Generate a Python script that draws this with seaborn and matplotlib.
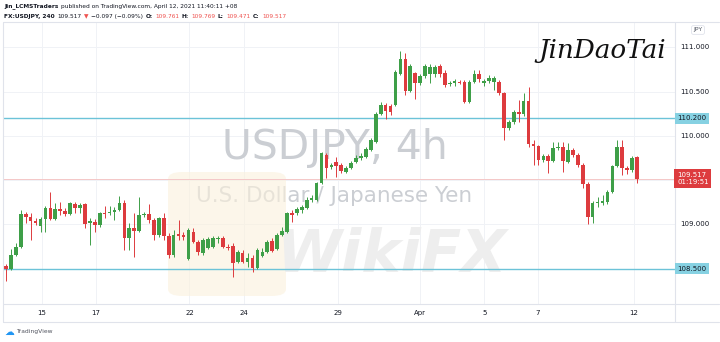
import matplotlib
matplotlib.use("Agg")
import matplotlib.pyplot as plt
from matplotlib.lines import Line2D
from matplotlib.patches import FancyBboxPatch
import matplotlib.transforms as mtrans
import numpy as np
import pandas as pd
import seaborn as sns

# ---------------- data (USDJPY, 4h candles) ----------------
opens = [108.529, 108.495, 108.653, 108.743, 109.116, 109.082, 109.037, 108.981, 109.060, 109.184,
         109.060, 109.173, 109.150, 109.116, 109.229, 109.184, 109.229, 109.015, 109.026, 108.992,
         109.128, 109.128, 109.139, 109.162, 109.241, 108.845, 108.958, 108.924, 109.105, 109.116,
         109.049, 108.879, 109.071, 108.868, 108.653, 108.890, 108.879, 108.608, 108.913, 108.800,
         108.676, 108.732, 108.743, 108.834, 108.845, 108.743, 108.755, 108.574, 108.676, 108.574,
         108.619, 108.506, 108.642, 108.687, 108.811, 108.721, 108.879, 108.913, 109.128, 109.128,
         109.162, 109.184, 109.275, 109.275, 109.467, 109.783, 109.647, 109.704, 109.670, 109.591,
         109.636, 109.704, 109.749, 109.760, 109.840, 109.930, 110.246, 110.348, 110.337, 110.348,
         110.698, 110.868, 110.506, 110.710, 110.597, 110.676, 110.698, 110.698, 110.789, 110.710,
         110.586, 110.597, 110.608, 110.608, 110.382, 110.608, 110.698, 110.597, 110.619, 110.608,
         110.608, 110.484, 110.088, 110.156, 110.269, 110.246, 110.393, 109.907, 109.885, 109.727,
         109.772, 109.715, 109.862, 109.874, 109.704, 109.840, 109.783, 109.670, 109.455, 109.082,
         109.241, 109.241, 109.252, 109.365, 109.659, 109.874, 109.636, 109.614, 109.761]
highs = [108.551, 108.721, 108.789, 109.162, 109.139, 109.128, 109.071, 109.082, 109.207, 109.365,
         109.240, 109.252, 109.184, 109.252, 109.252, 109.241, 109.241, 109.071, 109.060, 109.139,
         109.207, 109.207, 109.196, 109.320, 109.275, 109.015, 109.128, 109.308, 109.139, 109.229,
         109.071, 109.082, 109.128, 108.902, 108.936, 109.049, 108.913, 108.958, 108.958, 108.823,
         108.845, 108.856, 108.868, 108.868, 108.868, 108.777, 108.789, 108.710, 108.710, 108.676,
         108.653, 108.732, 108.732, 108.823, 108.845, 108.902, 108.969, 109.139, 109.162, 109.196,
         109.218, 109.308, 109.331, 109.478, 109.817, 109.806, 109.693, 109.760, 109.693, 109.659,
         109.715, 109.783, 109.806, 109.874, 109.975, 110.269, 110.382, 110.371, 110.360, 110.743,
         110.958, 110.936, 110.811, 110.721, 110.698, 110.811, 110.811, 110.800, 110.811, 110.743,
         110.619, 110.642, 110.631, 110.631, 110.631, 110.743, 110.743, 110.642, 110.687, 110.676,
         110.631, 110.495, 110.180, 110.292, 110.405, 110.484, 110.551, 109.953, 109.896, 109.794,
         109.794, 109.930, 109.930, 109.930, 109.919, 109.862, 109.806, 109.693, 109.478, 109.263,
         109.308, 109.331, 109.388, 109.670, 109.953, 109.953, 109.659, 109.772, 109.769]
lows = [108.359, 108.484, 108.642, 108.732, 109.015, 108.823, 108.992, 108.913, 108.913, 109.049,
        109.049, 109.105, 109.094, 109.105, 109.128, 109.128, 108.958, 108.766, 108.913, 108.969,
        109.071, 109.105, 109.049, 109.150, 108.710, 108.710, 108.630, 108.913, 109.082, 109.015,
        108.823, 108.856, 108.823, 108.619, 108.630, 108.823, 108.823, 108.597, 108.789, 108.653,
        108.653, 108.721, 108.732, 108.789, 108.732, 108.710, 108.405, 108.563, 108.563, 108.517,
        108.461, 108.495, 108.630, 108.676, 108.687, 108.710, 108.868, 108.902, 109.026, 109.105,
        109.128, 109.173, 109.252, 109.263, 109.456, 109.523, 109.625, 109.534, 109.580, 109.580,
        109.625, 109.693, 109.727, 109.749, 109.828, 109.919, 110.235, 110.190, 110.235, 110.337,
        110.687, 110.461, 110.495, 110.416, 110.574, 110.653, 110.597, 110.664, 110.664, 110.551,
        110.563, 110.563, 110.586, 110.371, 110.371, 110.597, 110.608, 110.563, 110.597, 110.518,
        110.461, 109.953, 110.066, 110.133, 110.156, 110.224, 109.873, 109.670, 109.670, 109.704,
        109.580, 109.704, 109.840, 109.591, 109.693, 109.760, 109.647, 109.410, 109.003, 109.015,
        109.196, 109.218, 109.229, 109.354, 109.647, 109.557, 109.568, 109.591, 109.471]
closes = [108.495, 108.653, 108.743, 109.116, 109.082, 109.037, 109.015, 109.060, 109.184, 109.060,
          109.173, 109.150, 109.116, 109.241, 109.184, 109.218, 109.003, 109.037, 108.992, 109.128,
          109.116, 109.139, 109.162, 109.241, 108.845, 108.958, 108.924, 109.105, 109.116, 109.049,
          108.879, 109.071, 108.868, 108.653, 108.879, 108.868, 108.856, 108.936, 108.800, 108.687,
          108.823, 108.834, 108.845, 108.845, 108.743, 108.732, 108.563, 108.687, 108.574, 108.619,
          108.506, 108.710, 108.687, 108.800, 108.698, 108.879, 108.924, 109.128, 109.105, 109.173,
          109.196, 109.275, 109.297, 109.467, 109.806, 109.636, 109.670, 109.659, 109.602, 109.636,
          109.693, 109.749, 109.772, 109.851, 109.953, 110.246, 110.348, 110.280, 110.269, 110.721,
          110.868, 110.506, 110.789, 110.597, 110.676, 110.789, 110.777, 110.777, 110.698, 110.574,
          110.597, 110.619, 110.597, 110.382, 110.608, 110.698, 110.642, 110.619, 110.653, 110.653,
          110.484, 110.088, 110.156, 110.269, 110.246, 110.393, 109.907, 109.885, 109.727, 109.772,
          109.715, 109.862, 109.874, 109.715, 109.840, 109.783, 109.670, 109.455, 109.082, 109.241,
          109.252, 109.263, 109.365, 109.659, 109.874, 109.636, 109.614, 109.749, 109.517]

date_labels = ["15", "17", "22", "24", "29", "Apr", "5", "7", "12"]
date_ticks = [7.2, 18.2, 37.2, 48.3, 67.3, 84.0, 97.0, 107.9, 127.4]
price_ticks = [111.0, 110.5, 110.0, 109.0]
grid_prices = [108.5, 109.0, 109.5, 110.0, 110.5, 111.0]
level_lines = [110.2, 108.5]
last_price = 109.517
countdown = "01:19:51"

header1 = [("Jin_LCMSTraders", "bold", "#131722"),
           ("published on TradingView.com, April 12, 2021 11:40:11 +08", "normal", "#131722")]
header2 = [("FX:USDJPY, 240", "bold", "#131722"), ("109.517", "normal", "#131722"),
           ("\u25bc", "normal", "#ef5350"), ("\u22120.097 (\u22120.09%)", "normal", "#131722"),
           ("O:", "bold", "#131722"), ("109.761", "normal", "#ef5350"),
           ("H:", "bold", "#131722"), ("109.769", "normal", "#ef5350"),
           ("L:", "bold", "#131722"), ("109.471", "normal", "#ef5350"),
           ("C:", "bold", "#131722"), ("109.517", "normal", "#ef5350")]

# ---------------- style ----------------
sns.set_theme(style="white")
plt.rcParams["font.family"] = ["DejaVu Sans"]
GREEN = "#3e9f48"
RED = "#dd3b3e"
GRID = "#f0f2f6"
BORDER = "#e0e3eb"
LEVEL = "#6cc3d8"
LEVEL_BOX = "#86d1e2"

W, H = 720, 342
L, R, T, B = 3, 675, 22, 304
fig = plt.figure(figsize=(7.2, 3.42), dpi=100)
fig.patch.set_facecolor("white")
ax = fig.add_axes([L / W, 1 - B / H, (R - L) / W, (B - T) / H])
ax.set_facecolor("white")
ax.set_xlim(-0.61, 135.7)
ax.set_ylim(108.099, 111.286)
ax.set_xticks([])
ax.set_yticks([])
for s in ax.spines.values():
    s.set_visible(False)
renderer = fig.canvas.get_renderer()


def fx(x):
    return x / W


def fy(y):
    return 1 - y / H


def fit(t, width):
    bb = t.get_window_extent(renderer)
    t.set_fontsize(t.get_fontsize() * width / bb.width)


# grid
for t in date_ticks:
    ax.axvline(t, color=GRID, lw=0.7, zorder=0)
for g in grid_prices:
    ax.axhline(g, color=GRID, lw=0.7, zorder=0)

# watermarks (behind candles)
wm1 = ax.text(fx(335), fy(159), "USDJPY, 4h", transform=fig.transFigure, ha="center",
              va="baseline", fontsize=30, color="#cbced3", zorder=1,
              family=["Liberation Sans Narrow", "DejaVu Sans"])
fit(wm1, 226)
wm2 = ax.text(fx(334), fy(202), "U.S. Dollar / Japanese Yen", transform=fig.transFigure,
              ha="center", va="baseline", fontsize=16, color="#cbced3", zorder=1,
              family=["Liberation Sans Narrow", "DejaVu Sans"])
fit(wm2, 276)
ax.add_patch(FancyBboxPatch((fx(168), fy(296)), fx(118), 124 / H,
                            boxstyle="round,pad=0,rounding_size=0.02",
                            transform=fig.transFigure, fc="#fbf1dc", ec="none",
                            alpha=0.6, zorder=1))
wm3 = ax.text(fx(392), fy(272), "WikiFX", transform=fig.transFigure, ha="center",
              va="baseline", fontsize=40, color="#eeeeee", fontweight="bold",
              fontstyle="italic", zorder=1)
fit(wm3, 230)

# levels and price line
for lv in level_lines:
    ax.axhline(lv, color=LEVEL, lw=1.0, zorder=2)
ax.axhline(last_price, color="#f4c7c7", lw=0.7, zorder=2)

# candles
df = pd.DataFrame({"o": opens, "h": highs, "l": lows, "c": closes})
df["i"] = np.arange(len(df))
up = df["c"] >= df["o"]
cols = np.where(up, GREEN, RED)
ax.vlines(df["i"], df["l"], df["h"], colors=cols, lw=0.7, zorder=3)
bottom = np.minimum(df["o"], df["c"])
height = np.maximum((df["c"] - df["o"]).abs(), 0.012)
ax.bar(df["i"], height, bottom=bottom, width=0.74, color=cols, lw=0, zorder=4)

# frame lines
def fline(x0, y0, x1, y1):
    fig.add_artist(Line2D([fx(x0), fx(x1)], [fy(y0), fy(y1)], color=BORDER, lw=0.8))

fline(L, T, 719, T)
fline(L, T, L, 322)
fline(R, T, R, 322)
fline(L, B, 719, B)
fline(L, 322, 719, 322)

# price axis
ytr = mtrans.blended_transform_factory(fig.transFigure, ax.transData)
for p in price_ticks:
    fig.text(fx(680), p, f"{p:.3f}", transform=ytr, ha="left", va="center",
             fontsize=5, color="#131722")
for lv in level_lines:
    fig.text(fx(677), lv, f"{lv:.3f}", transform=ytr, ha="left", va="center",
             fontsize=5, color="#131722",
             bbox=dict(boxstyle="square,pad=0.35", fc=LEVEL_BOX, ec="none"))
fig.text(fx(677), last_price, f"{last_price:.3f}\n{countdown}", transform=ytr, ha="left",
         va="center", fontsize=5, color="white", linespacing=1.25,
         bbox=dict(boxstyle="square,pad=0.4", fc=RED, ec="none"))
fig.text(fx(698), fy(30), "JPY", ha="center", va="center", fontsize=4.5, color="#555b66",
         bbox=dict(boxstyle="round,pad=0.3,rounding_size=0.3", fc="white", ec=BORDER, lw=0.6))

# date axis
xtr = mtrans.blended_transform_factory(ax.transData, fig.transFigure)
for t, lab in zip(date_ticks, date_labels):
    fig.text(t, fy(313), lab, transform=xtr, ha="center", va="center", fontsize=5,
             color="#131722")

# header
def seq(pieces, x0, y, size, gap):
    x = x0
    for s, w, c in pieces:
        t = fig.text(fx(x), fy(y), s, ha="left", va="center", fontsize=size,
                     fontweight=w, color=c)
        x += t.get_window_extent(renderer).width + gap

seq(header1, 4, 6.5, 4.2, 2.5)
seq(header2, 4, 16.5, 4.2, 2.5)

# signature
sig = fig.text(fx(602), fy(58), "JinDaoTai", ha="center", va="baseline", fontsize=20,
               color="#111111", family="DejaVu Serif", fontstyle="italic")
fit(sig, 128)

# TradingView logo
fig.text(fx(4), fy(332), "\u2601", ha="left", va="center", fontsize=7, color="#2196f3")
fig.text(fx(16), fy(332), "TradingView", ha="left", va="center", fontsize=4.3, color="#50535e")

fig.savefig("out.png", dpi=100, facecolor="white")
